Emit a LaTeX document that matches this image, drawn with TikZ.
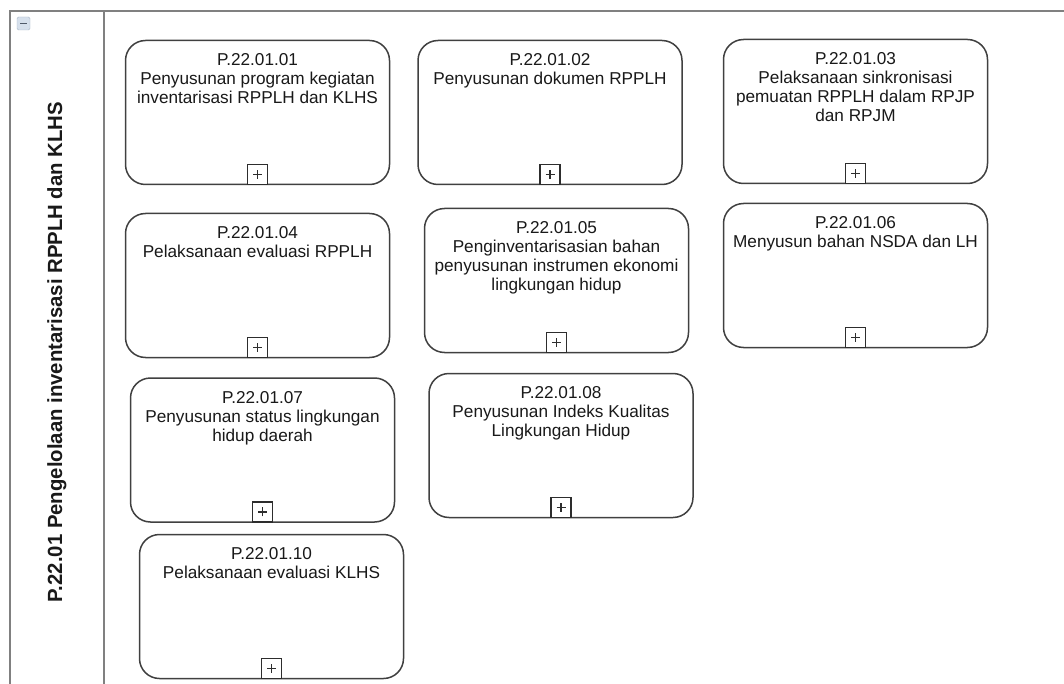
\documentclass[tikz,border=0pt]{standalone}
\usepackage{fontspec}
\setmainfont{Liberation Sans}
\usepackage{graphicx}
\definecolor{framec}{RGB}{128,128,128}
\definecolor{boxc}{RGB}{64,64,64}
\definecolor{plusc}{RGB}{45,45,45}
\definecolor{textc}{RGB}{25,25,25}
\definecolor{minusfill}{RGB}{214,224,236}
\definecolor{minusborder}{RGB}{170,184,200}
\definecolor{minusc}{RGB}{80,90,105}
\begin{document}
\begin{tikzpicture}[x=1pt,y=-1pt,
  task/.style={draw=boxc, line width=1.5pt, rounded corners=20pt,
    minimum width=264pt, minimum height=144pt, fill=white, inner sep=0},
  tasktext/.style={anchor=north, align=center, inner sep=0,
    font=\fontsize{17.2}{19}\selectfont, text=textc},
  plusbox/.style={draw=plusc, line width=1.6pt, minimum size=20pt, inner sep=0,
    anchor=south, fill=white,
    path picture={\draw[line width=1.4pt, plusc]
      ([xshift=-4.5pt]path picture bounding box.center) -- ([xshift=4.5pt]path picture bounding box.center)
      ([yshift=-4.5pt]path picture bounding box.center) -- ([yshift=4.5pt]path picture bounding box.center);}},
  framel/.style={draw=framec, line width=2pt}
]
\useasboundingbox[fill=white] (0,0) rectangle (1064,684);

% pool frame
\draw[framel] (10,684) -- (10,11) -- (1064,11);
\draw[framel] (104,11) -- (104,684);

% collapse icon
\node[draw=minusborder, fill=minusfill, minimum size=13pt, inner sep=0, rounded corners=1.5pt] (collapse) at (23.5,23.5) {};
\draw[minusc, line width=1.8pt] ([xshift=-3.5pt]collapse.center) -- ([xshift=3.5pt]collapse.center);

% lane label
\node[rotate=90, anchor=base, inner sep=0, text=textc,
  font=\bfseries\fontsize{20.5}{24}\selectfont] (lane) at (62,352)
  {\resizebox{500pt}{\height}{P.22.01 Pengelolaan inventarisasi RPPLH dan KLHS}};

% tasks
\newcommand{\taskbox}[4]{%
  \node[task] (b#1) at (#2,#3) {};
  \node[tasktext] (t#1) at ([yshift=-14pt]b#1.north) {#4};
  \node[plusbox] (p#1) at (b#1.south) {};
}
\taskbox{1}{257.5}{112.5}{P.22.01.01\\Penyusunan program kegiatan\\inventarisasi RPPLH dan KLHS}
\taskbox{2}{550}{112.5}{P.22.01.02\\Penyusunan dokumen RPPLH}
\taskbox{3}{855.5}{111.5}{P.22.01.03\\Pelaksanaan sinkronisasi\\pemuatan RPPLH dalam RPJP\\dan RPJM}
\taskbox{4}{257.5}{285.5}{P.22.01.04\\Pelaksanaan evaluasi RPPLH}
\taskbox{5}{556.5}{280.5}{P.22.01.05\\Penginventarisasian bahan\\penyusunan instrumen ekonomi\\lingkungan hidup}
\taskbox{6}{855.5}{275.5}{P.22.01.06\\Menyusun bahan NSDA dan LH}
\taskbox{7}{262.5}{450}{P.22.01.07\\Penyusunan status lingkungan\\hidup daerah}
\taskbox{8}{561}{445.5}{P.22.01.08\\Penyusunan Indeks Kualitas\\Lingkungan Hidup}
\taskbox{10}{271.5}{606.5}{P.22.01.10\\Pelaksanaan evaluasi KLHS}
\end{tikzpicture}
\end{document}
